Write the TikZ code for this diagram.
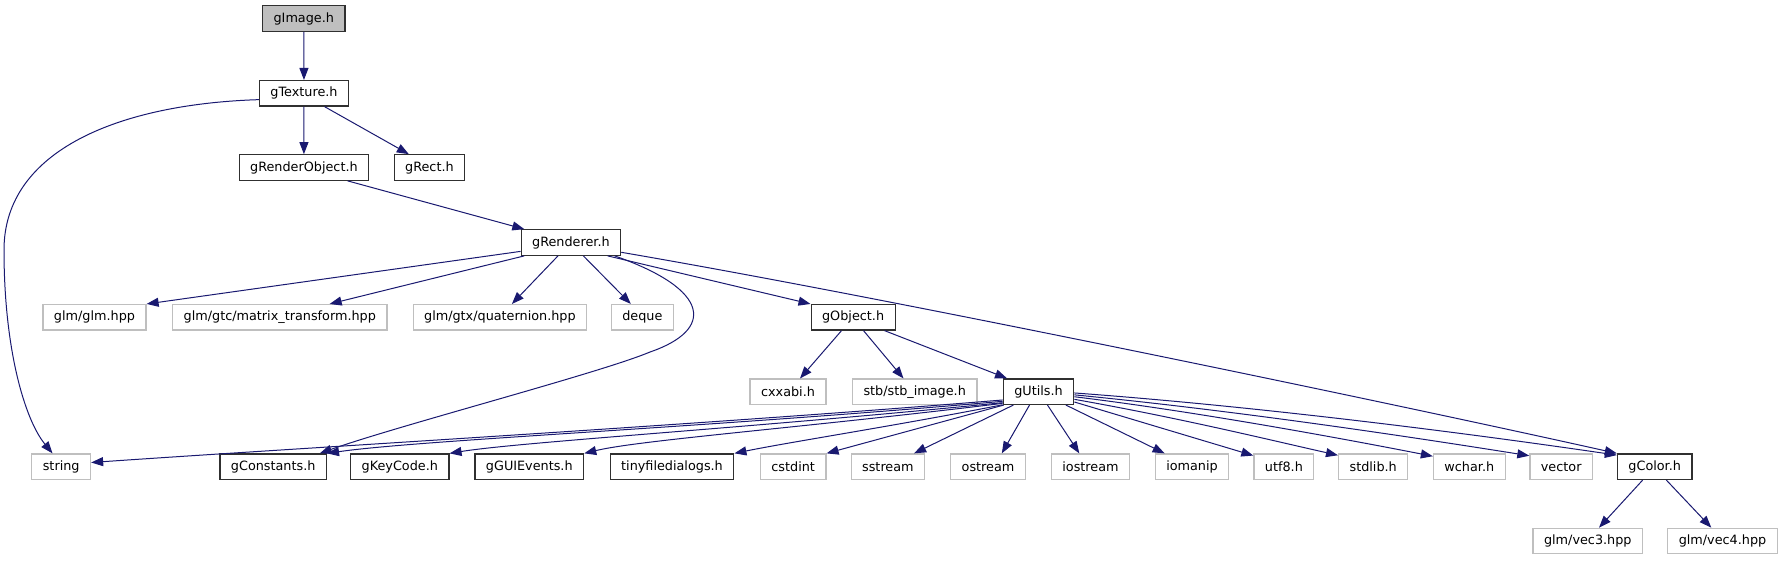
\documentclass[tikz,border=0pt]{standalone}
\usepackage{fontspec}
\setmainfont{DejaVu Sans}
\usepackage{tikz}
\usetikzlibrary{arrows.meta}
\definecolor{edgeblue}{RGB}{25,25,112}
\definecolor{boxline}{RGB}{48,48,48}
\definecolor{extline}{RGB}{191,191,191}
\definecolor{rootfill}{RGB}{191,191,191}

\begin{document}
\begin{tikzpicture}[
        x=1pt, y=-1pt,
        >={Triangle[length=12pt 0 0, width=9pt 0 0]},
        hdr/.style={
            draw=boxline,
            line width=1.2pt,
            fill=white,
            minimum height=25.5pt,
            inner xsep=11pt,
            inner ysep=0pt,
            font=\fontsize{12.8}{15}\selectfont
        },
        ext/.style={hdr, draw=extline},
        root/.style={hdr, fill=rootfill},
        dep/.style={->, color=edgeblue, line width=1pt}
    ]
        \useasboundingbox (0,0) rectangle (1783,560);

        % top of the graph
        \node[root] (gImage) at (303.8,18.5) {gImage.h};
        \node[hdr] (gTexture) at (304,93.3) {gTexture.h};
        \node[hdr] (gRenderObject) at (303.9,167.5) {gRenderObject.h};
        \node[hdr] (gRect) at (429.4,167.5) {gRect.h};
        \node[hdr] (gRenderer) at (570.9,242.5) {gRenderer.h};

        % second row
        \node[ext] (glmMain) at (94.5,317.3) {glm/glm.hpp};
        \node[ext] (glmMatrix) at (279.8,317.3) {glm/gtc/matrix\_transform.hpp};
        \node[ext] (glmQuat) at (499.9,317.3) {glm/gtx/quaternion.hpp};
        \node[ext] (deque) at (642.4,317.3) {deque};
        \node[hdr] (gObject) at (853.1,317.3) {gObject.h};

        % third row
        \node[ext] (cxxabi) at (788,391.8) {cxxabi.h};
        \node[ext] (stbImage) at (914.7,391.8) {stb/stb\_image.h};
        \node[hdr] (gUtils) at (1038.5,391.7) {gUtils.h};

        % bottom row
        \node[ext] (string) at (61.2,466.7) {string};
        \node[hdr] (gConstants) at (273.2,466.7) {gConstants.h};
        \node[hdr] (gKeyCode) at (399.8,466.7) {gKeyCode.h};
        \node[hdr] (gGUIEvents) at (529.3,466.7) {gGUIEvents.h};
        \node[hdr] (tinyfd) at (672,466.7) {tinyfiledialogs.h};
        \node[ext] (cstdint) at (793.2,466.7) {cstdint};
        \node[ext] (sstream) at (887.9,466.7) {sstream};
        \node[ext] (ostream) at (988,466.7) {ostream};
        \node[ext] (iostream) at (1090.5,466.7) {iostream};
        \node[ext] (iomanip) at (1192,466.7) {iomanip};
        \node[ext] (utf) at (1283.9,466.7) {utf8.h};
        \node[ext] (stdlib) at (1373.2,466.7) {stdlib.h};
        \node[ext] (wchar) at (1469.3,466.7) {wchar.h};
        \node[ext] (vector) at (1561.2,466.7) {vector};
        \node[hdr] (gColor) at (1654.7,466.7) {gColor.h};
        \node[ext] (vecThree) at (1587.8,541) {glm/vec3.hpp};
        \node[ext] (vecFour) at (1722.5,541) {glm/vec4.hpp};

        % includes
        \draw[dep] (gImage) -- (gTexture);
        \draw[dep] (gTexture.188) .. controls (120,104) and (4,150) .. (4,250)
            .. controls (4,350) and (25,420) .. (string.123);
        \draw[dep] (gTexture) -- (gRenderObject);
        \draw[dep] (gTexture.-33) -- (gRect.147);
        \draw[dep] (gRenderObject.-17) -- (gRenderer.164);

        \draw[dep] (gRenderer.190) -- (glmMain.north east);
        \draw[dep] (gRenderer.196) -- (glmMatrix.15);
        \draw[dep] (gRenderer.226) -- (glmQuat.48);
        \draw[dep] (gRenderer.-47) -- (deque.131);
        \draw[dep] (gRenderer.-17) .. controls (712,290) and (714,330) .. (650,352)
            .. controls (600,373) and (400,425) .. (gConstants.16);
        \draw[dep] (gRenderer.-20) -- (gObject.north west);
        \draw[dep] (gRenderer.-11) .. controls (900,300) and (1400,405) .. (gColor.north west);

        \draw[dep] (gObject.229) -- (cxxabi.48);
        \draw[dep] (gObject.-52) -- (stbImage.130);
        \draw[dep] (gObject.-23) -- (gUtils.157);

        \draw[dep] (gUtils.193) .. controls (700,425) and (300,448) .. (string.8);
        \draw[dep] (gUtils.195) .. controls (700,428) and (420,440) .. (gConstants.north east);
        \draw[dep] (gUtils.197) .. controls (750,428) and (520,442) .. (gKeyCode.15);
        \draw[dep] (gUtils.198) .. controls (800,428) and (640,440) .. (gGUIEvents.north east);
        \draw[dep] (gUtils.200) .. controls (900,425) and (790,442) .. (tinyfd.north east);
        \draw[dep] (gUtils.201) -- (cstdint.north east);
        \draw[dep] (gUtils.208) -- (sstream.27);
        \draw[dep] (gUtils.236) -- (ostream.44);
        \draw[dep] (gUtils.-56) -- (iostream.130);
        \draw[dep] (gUtils.-26) -- (iomanip.154);
        \draw[dep] (gUtils.-16) -- (utf.160);
        \draw[dep] (gUtils.-12) .. controls (1180,418) and (1270,440) .. (stdlib.162);
        \draw[dep] (gUtils.-8) .. controls (1200,412) and (1350,440) .. (wchar.164);
        \draw[dep] (gUtils.-5) .. controls (1250,412) and (1430,440) .. (vector.161);
        \draw[dep] (gUtils.-2) .. controls (1280,408) and (1500,438) .. (gColor.163);

        \draw[dep] (gColor.228) -- (vecThree.50);
        \draw[dep] (gColor.-49) -- (vecFour.130);
    \end{tikzpicture}
\end{document}
